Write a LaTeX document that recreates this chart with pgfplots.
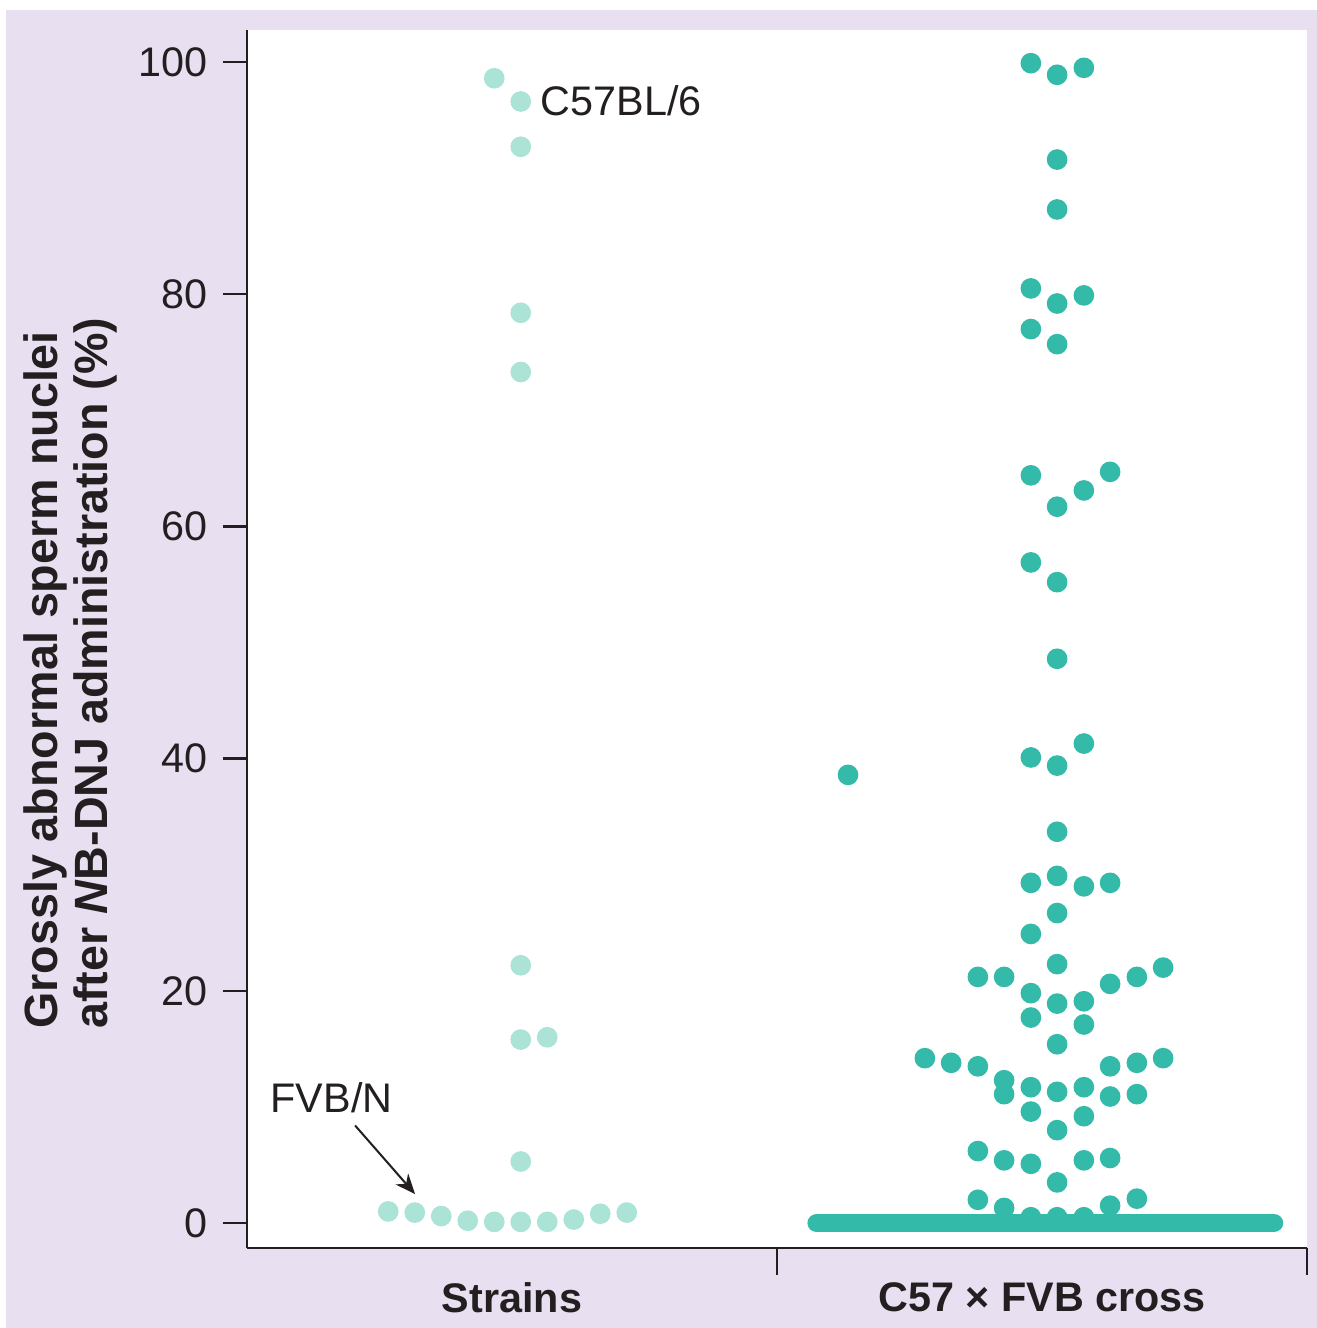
\documentclass[border=0pt]{standalone}
\usepackage{fontspec}
\setmainfont{Liberation Sans}
\usepackage{pgfplots}
\pgfplotsset{compat=1.18}
\usetikzlibrary{arrows.meta}

\definecolor{lavbg}{RGB}{232,224,241}
\definecolor{strainc}{RGB}{171,227,214}
\definecolor{crossc}{RGB}{51,186,168}
\definecolor{ink}{RGB}{35,31,32}

\begin{document}
\begin{tikzpicture}
% page background (1px = 0.3pt)
\fill[lavbg] (-72.3pt,-24pt) rectangle (321pt,371.4pt);
\begin{axis}[
  scale only axis,
  width=318pt, height=365.4pt,
  xmin=0, xmax=40,
  ymin=-2.15, ymax=102.76,
  axis background/.style={fill=white},
  axis x line*=bottom, axis y line*=left,
  axis line style={ink, line width=0.75pt},
  every tick/.style={ink, line width=0.75pt},
  tick align=outside,
  major tick length=7.2pt,
  ytick={0,20,40,60,80,100},
  xtick={10,30},
  xticklabels={Strains, C57 × FVB cross},
  x tick style={draw=none},
  xticklabel style={font=\fontsize{12.4}{14}\selectfont\bfseries, text=ink, yshift=0.3pt},
  extra x ticks={20,40},
  extra x tick labels={},
  extra x tick style={x tick style={draw=ink, line width=0.75pt}, major tick length=8pt},
  yticklabel style={font=\fontsize{12.4}{14}\selectfont, text=ink, xshift=-1.2pt},
  /pgf/number format/assume math mode=true,
  ylabel={Grossly abnormal sperm nuclei\\after \textit{N}B-DNJ administration (\%)},
  ylabel style={font=\fontsize{14}{15}\selectfont\bfseries, text=ink, align=left,
    at={(axis description cs:0,0.472)}, anchor=center, yshift=53pt},
  clip=false,
]
% strains
\addplot[only marks, mark=*, mark size=2.9pt, color=strainc] coordinates {
  (9.33,98.6) (10.33,96.6) (10.33,92.7) (10.33,78.4) (10.33,73.3)
  (10.33,22.2) (10.33,15.8) (11.33,16.0) (10.33,5.3)
  (5.33,1.0) (6.33,0.9) (7.33,0.6) (8.33,0.2) (9.33,0.1)
  (10.33,0.1) (11.33,0.1) (12.33,0.3) (13.33,0.8) (14.33,0.9)
};
% cross, the many zeros form a solid band
\addplot[color=crossc, line width=5.6pt, line cap=round] coordinates {
  (21.5,0) (38.75,0)
};
\addplot[only marks, mark=*, mark size=2.9pt, color=crossc] coordinates {
  (29.58,99.9) (30.57,98.9) (31.58,99.5)
  (30.57,91.6) (30.57,87.3)
  (29.58,80.5) (30.57,79.2) (31.58,79.9)
  (29.58,77.0) (30.57,75.7)
  (29.58,64.4) (30.57,61.7) (31.58,63.1) (32.57,64.7)
  (29.58,56.9) (30.57,55.2) (30.57,48.6)
  (22.68,38.6)
  (29.58,40.1) (30.57,39.4) (31.58,41.3)
  (30.57,33.7)
  (29.58,29.3) (30.57,29.9) (31.58,29.0) (32.57,29.3)
  (30.57,26.7) (29.58,24.9)
  (30.57,22.3) (27.58,21.2) (28.57,21.2) (29.58,19.8) (30.57,18.9)
  (31.58,19.1) (32.57,20.6) (33.58,21.2) (34.57,22.0)
  (29.58,17.7) (31.58,17.1) (30.57,15.4)
  (25.58,14.2) (26.57,13.8) (27.58,13.5) (28.57,12.3) (28.57,11.1)
  (29.58,11.7) (30.57,11.3) (31.58,11.7) (32.57,13.5) (33.58,13.8)
  (34.57,14.2) (32.57,10.9) (33.58,11.1)
  (29.58,9.6) (31.58,9.2) (30.57,8.0)
  (27.58,6.2) (28.57,5.4) (29.58,5.1) (30.57,3.5) (31.58,5.4) (32.57,5.6)
  (27.58,2.0) (28.57,1.3) (29.58,0.5) (30.57,0.5) (31.58,0.5)
  (32.57,1.5) (33.58,2.1)
};
\node[anchor=west, inner sep=0pt, font=\fontsize{12.4}{14}\selectfont, text=ink]
  at (axis cs:11.06,96.7) {C57BL/6};
\node[anchor=west, inner sep=0pt, font=\fontsize{12.4}{14}\selectfont, text=ink]
  at (axis cs:0.87,10.8) {FVB/N};
\draw[ink, line width=0.6pt, -{Stealth[length=6pt, width=5pt]}]
  (axis cs:4.08,8.4) -- (axis cs:6.34,2.5);
\end{axis}
\pgfresetboundingbox
\path (-74.1pt,-24pt) rectangle (321pt,374.4pt);
\end{tikzpicture}
\end{document}
